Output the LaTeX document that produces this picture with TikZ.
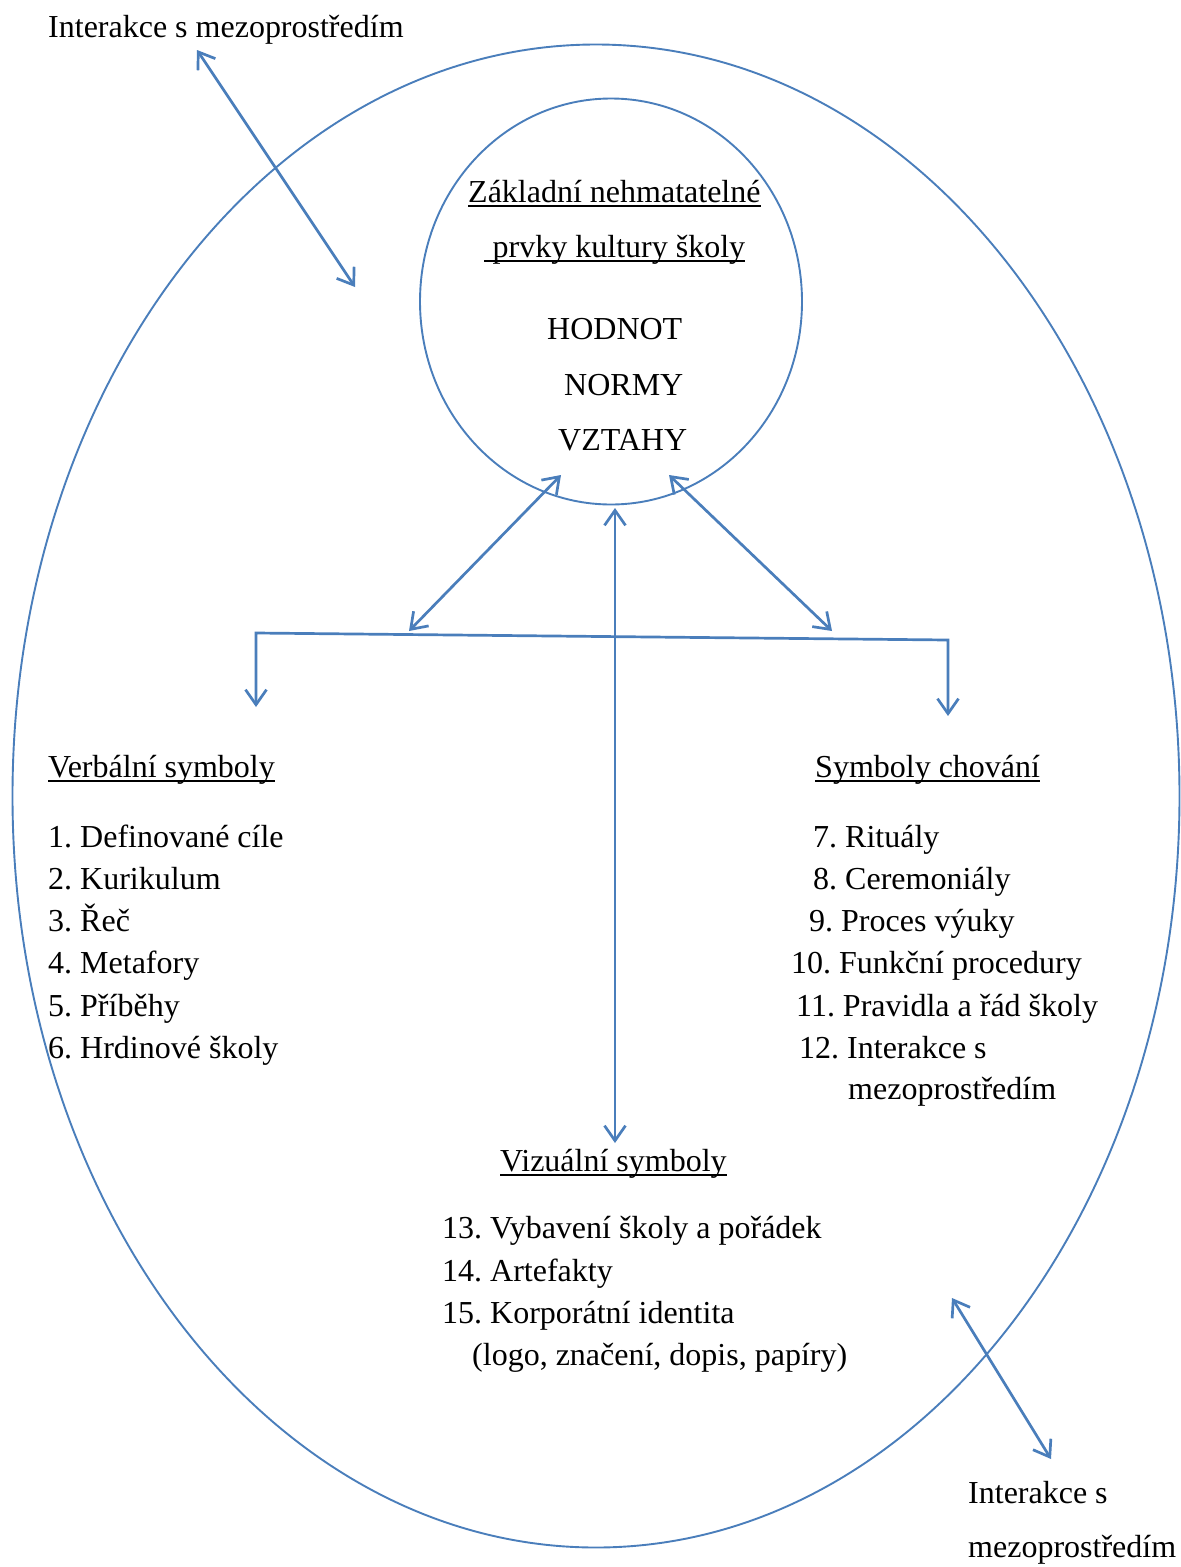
\documentclass[tikz,border=0pt]{standalone}
\usepackage{fontspec}
\setmainfont{Liberation Serif}
\usetikzlibrary{arrows.meta,shapes.geometric}
\definecolor{wordblue}{RGB}{74,126,187}
\frenchspacing
\begin{document}
\begin{tikzpicture}[x=1pt,y=-1pt,
  txt/.style={anchor=base west, inner sep=0pt, font=\fontsize{32}{38}\selectfont\frenchspacing, text=black},
  ulline/.style={line width=1.7pt, black},
  ring/.style={draw=wordblue, line width=1.9pt, ellipse, inner sep=0pt, outer sep=0pt},
  barb/.tip={Straight Barb[length=15pt,width=21pt]},
  conn/.style={draw=wordblue, line width=2.7pt, barb-barb},
  ]
\useasboundingbox (0,0) rectangle (1181,1567);

% ellipses
\node[ring, minimum width=1167pt, minimum height=1503pt] (outer) at (596,796) {};
\node[ring, minimum width=382pt, minimum height=406pt] (core) at (611,301.5) {};

% texts
\node[txt] (topl) at (48,37.5) {Interakce s mezoprostředím};

\node[txt] (h0a) at (468,202) {Základní nehmatatelné};
\node[txt] (h0b) at (484,257) {\hspace*{8.5pt}prvky kultury školy};
\node[txt] (hod) at (547,339) {HODNOT};
\node[txt] (nor) at (564,395) {NORMY};
\node[txt] (vzt) at (558,450) {VZTAHY};

\node[txt] (hv) at (48,777) {Verbální symboly};
\node[txt] (v1) at (48,847) {1. Definované cíle};
\node[txt] (v2) at (48,889) {2. Kurikulum};
\node[txt] (v3) at (48,931) {3. Řeč};
\node[txt] (v4) at (48,973) {4. Metafory};
\node[txt] (v5) at (48,1016) {5. Příběhy};
\node[txt] (v6) at (48,1058) {6. Hrdinové školy};

\node[txt] (hc) at (815,777) {Symboly chování};
\node[txt] (c7) at (813,847) {7. Rituály};
\node[txt] (c8) at (813,889) {8. Ceremoniály};
\node[txt] (c9) at (809,931) {9. Proces výuky};
\node[txt] (c10) at (791,973) {10. Funkční procedury};
\node[txt] (c11) at (796,1016) {11. Pravidla a řád školy};
\node[txt] (c12) at (799,1058) {12. Interakce s};
\node[txt] (c12b) at (848,1099) {mezoprostředím};

\node[txt] (hz) at (500,1171) {Vizuální symboly};
\node[txt] (z13) at (442,1238) {13. Vybavení školy a pořádek};
\node[txt] (z14) at (442,1281) {14. Artefakty};
\node[txt] (z15) at (442,1323) {15. Korporátní identita};
\node[txt] (z15b) at (472,1365) {(logo, značení, dopis, papíry)};

\node[txt] (brl) at (968,1503) {Interakce s};
\node[txt] (brl2) at (968,1557) {mezoprostředím};

% underlines
\foreach \n in {h0a,h0b,hv,hc,hz}
  \draw[ulline] ([yshift=-4.3pt]\n.base west) -- ([yshift=-4.3pt]\n.base east);

% connector end points
\coordinate (tlA) at (197,50);
\coordinate (tlB) at (355,287);
\coordinate (brA) at (952,1298);
\coordinate (brB) at (1051,1459);
\coordinate (ldA) at (561,475);
\coordinate (ldB) at (409,631);
\coordinate (rdA) at (669,475);
\coordinate (rdB) at (832,631);
\coordinate (vA) at (615,508);
\coordinate (vB) at (615,1143);
\coordinate (hL) at (256,633);
\coordinate (hR) at (948,640);
\coordinate (hLd) at (256,707);
\coordinate (hRd) at (948,716);

% connectors
\draw[conn] (tlA) -- (tlB);
\draw[conn] (brA) -- (brB);
\draw[conn] (ldA) -- (ldB);
\draw[conn] (rdA) -- (rdB);
\draw[conn] (vA) -- (vB);
\draw[conn] (hLd) -- (hL) -- (hR) -- (hRd);
\end{tikzpicture}
\end{document}
